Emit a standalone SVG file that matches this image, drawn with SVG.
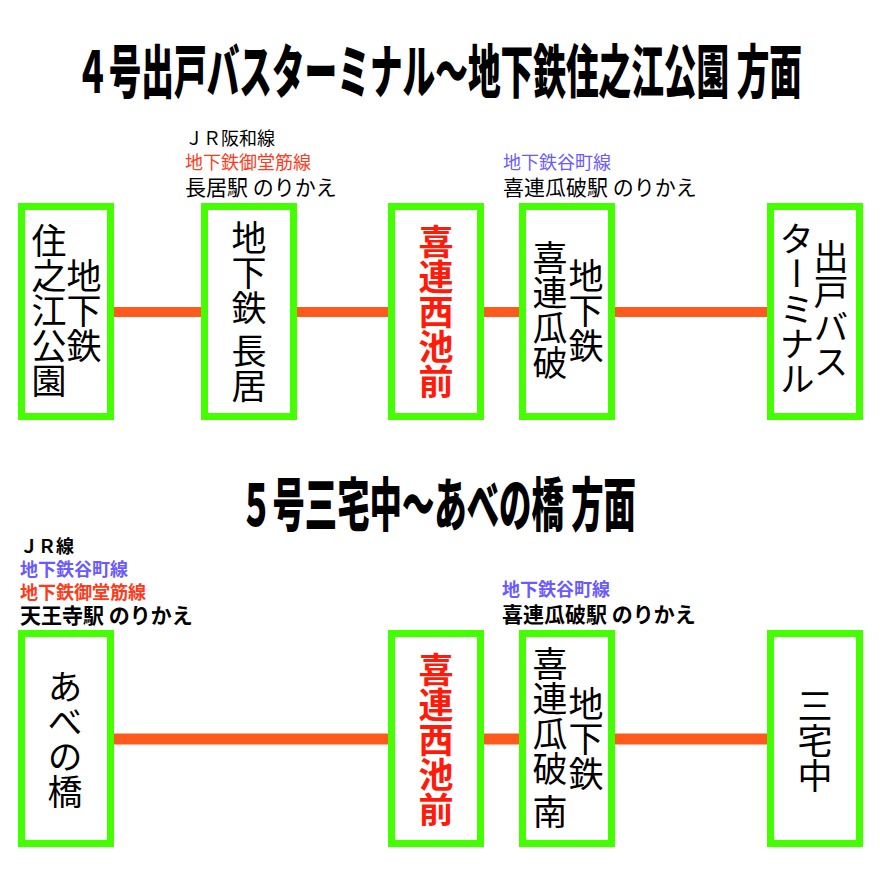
<svg xmlns="http://www.w3.org/2000/svg" width="880" height="880" viewBox="0 0 880 880">
<style>
.title{font-family:"Noto Sans CJK JP","Noto Sans",sans-serif;font-weight:900;font-size:58px;fill:#000}
.box{fill:#fff;stroke:#44FF00;stroke-width:7}
.conn{stroke:#FF5A1E;fill:none}
.v{font-family:"Noto Sans CJK JP","Noto Sans",sans-serif;font-size:35px;fill:#000;writing-mode:vertical-rl;text-anchor:middle}
.vr{fill:#FF1A0A;font-weight:700}
.lb{font-family:"Noto Sans CJK JP","Noto Sans",sans-serif;fill:#000}
.s{font-size:18px}
.m{font-size:21px}
.red{fill:#FF3A1A}
.blue{fill:#6A5AFF}
.b{font-weight:700}
</style>
<rect width="880" height="880" fill="#fff"/>
<text class="title" x="76" y="93" textLength="726" lengthAdjust="spacingAndGlyphs">４号出戸バスターミナル～地下鉄住之江公園 方面</text>
<text class="title" x="240" y="526" textLength="396" lengthAdjust="spacingAndGlyphs">５号三宅中～あべの橋 方面</text>

<g id="connectors">
<g stroke-width="10" class="conn">
<line x1="114" y1="312" x2="201" y2="312"/>
<line x1="297" y1="312" x2="388" y2="312"/>
<line x1="484" y1="312" x2="519" y2="312"/>
<line x1="615" y1="312" x2="767" y2="312"/>
</g>
<g stroke-width="11" class="conn">
<line x1="114" y1="739" x2="388" y2="739"/>
<line x1="484" y1="739" x2="519" y2="739"/>
<line x1="615" y1="739" x2="767" y2="739"/>
</g>
</g>

<g id="labels">
<text class="lb s" x="185" y="145">ＪＲ阪和線</text>
<text class="lb s red" x="185" y="169">地下鉄御堂筋線</text>
<text class="lb m" x="185" y="195">長居駅 のりかえ</text>
<text class="lb s blue" x="503" y="169">地下鉄谷町線</text>
<text class="lb m" x="503" y="195">喜連瓜破駅 のりかえ</text>
<text class="lb s b" x="20" y="553">ＪＲ線</text>
<text class="lb s b blue" x="20" y="576">地下鉄谷町線</text>
<text class="lb s b red" x="20" y="599">地下鉄御堂筋線</text>
<text class="lb m b" x="20" y="623">天王寺駅 のりかえ</text>
<text class="lb s b blue" x="502" y="596">地下鉄谷町線</text>
<text class="lb m b" x="502" y="622">喜連瓜破駅 のりかえ</text>
</g>

<g id="n-suminoe">
<rect class="box" x="21.5" y="206.5" width="89" height="210"/>
<text class="v" x="84" y="311">地下鉄</text>
<text class="v" x="49" y="311">住之江公園</text>
</g>
<g id="n-nagai">
<rect class="box" x="204.5" y="206.5" width="89" height="210"/>
<text class="v" x="249" y="312">地下鉄 長居</text>
</g>
<g id="n-kirenishiikemae-1">
<rect class="box" x="391.5" y="206.5" width="89" height="210"/>
<text class="v vr" x="436" y="312">喜連西池前</text>
</g>
<g id="n-kireuriwari">
<rect class="box" x="522.5" y="206.5" width="89" height="210"/>
<text class="v" x="586" y="311">地下鉄</text>
<text class="v" x="550" y="310">喜連瓜破</text>
</g>
<g id="n-idebus">
<rect class="box" x="770.5" y="206.5" width="89" height="210"/>
<text class="v" x="831" y="309">出戸バス</text>
<text class="v" x="797" y="309">ターミナル</text>
</g>

<g id="n-abeno">
<rect class="box" x="21.5" y="633.5" width="89" height="210"/>
<text class="v" x="65" y="739">あべの橋</text>
</g>
<g id="n-kirenishiikemae-2">
<rect class="box" x="391.5" y="633.5" width="89" height="210"/>
<text class="v vr" x="436" y="740">喜連西池前</text>
</g>
<g id="n-kireuriwariminami">
<rect class="box" x="522.5" y="633.5" width="89" height="210"/>
<text class="v" x="586" y="739">地下鉄</text>
<text class="v" x="550" y="738">喜連瓜破 南</text>
</g>
<g id="n-miyakenaka">
<rect class="box" x="770.5" y="633.5" width="89" height="210"/>
<text class="v" x="815" y="741">三宅中</text>
</g>
</svg>
